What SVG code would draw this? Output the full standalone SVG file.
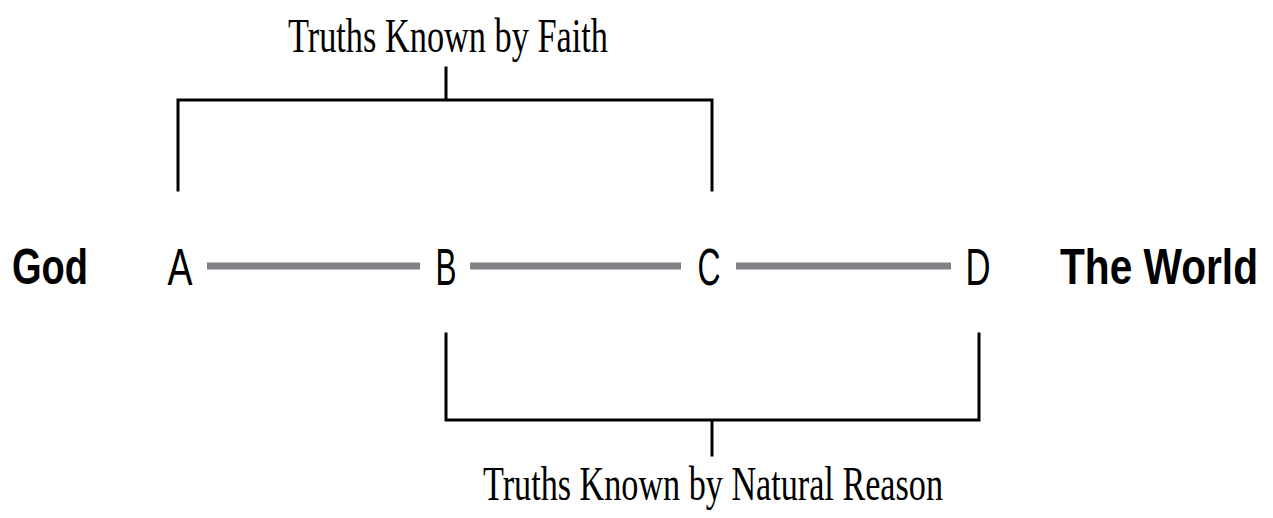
<svg xmlns="http://www.w3.org/2000/svg" width="1273" height="518" viewBox="0 0 1273 518">
<style>
.bk{fill:none;stroke:#000;stroke-width:3;stroke-linecap:square}
.bar{stroke:#808285;stroke-width:7}
.lbl{font-family:"Liberation Serif",serif;font-size:48px;fill:#000}
.end{font-family:"Liberation Sans",sans-serif;font-weight:bold;font-size:50px;fill:#000}
.pt{font-family:"Liberation Sans",sans-serif;font-size:52px;fill:#000;text-anchor:middle}
</style>
<rect width="1273" height="518" fill="#fff"/>
<g id="connectors">
<path class="bk" d="M178,190 V100 H712 V190 M446,100 V68"/>
<path class="bk" d="M446,334 V420 H979 V334 M712,420 V455"/>
<line class="bar" x1="207" y1="266" x2="420" y2="266"/>
<line class="bar" x1="470" y1="266" x2="681" y2="266"/>
<line class="bar" x1="736" y1="266" x2="951" y2="266"/>
</g>
<g id="god"><text class="end" x="12" y="284" textLength="76" lengthAdjust="spacingAndGlyphs">God</text></g>
<g id="world" transform="translate(1060,284) scale(1,1.19)"><text class="end" style="font-size:42px" x="0" y="0" textLength="198" lengthAdjust="spacingAndGlyphs">The World</text></g>
<g id="A"><text class="pt" x="180" y="285" textLength="25" lengthAdjust="spacingAndGlyphs">A</text></g>
<g id="B"><text class="pt" x="446" y="285" textLength="21" lengthAdjust="spacingAndGlyphs">B</text></g>
<g id="C"><text class="pt" x="709" y="285" textLength="23" lengthAdjust="spacingAndGlyphs">C</text></g>
<g id="D"><text class="pt" x="978" y="285" textLength="25" lengthAdjust="spacingAndGlyphs">D</text></g>
<g id="faith"><text class="lbl" x="288" y="52" textLength="320" lengthAdjust="spacingAndGlyphs">Truths Known by Faith</text></g>
<g id="reason"><text class="lbl" x="483" y="500" textLength="460" lengthAdjust="spacingAndGlyphs">Truths Known by Natural Reason</text></g>
</svg>
